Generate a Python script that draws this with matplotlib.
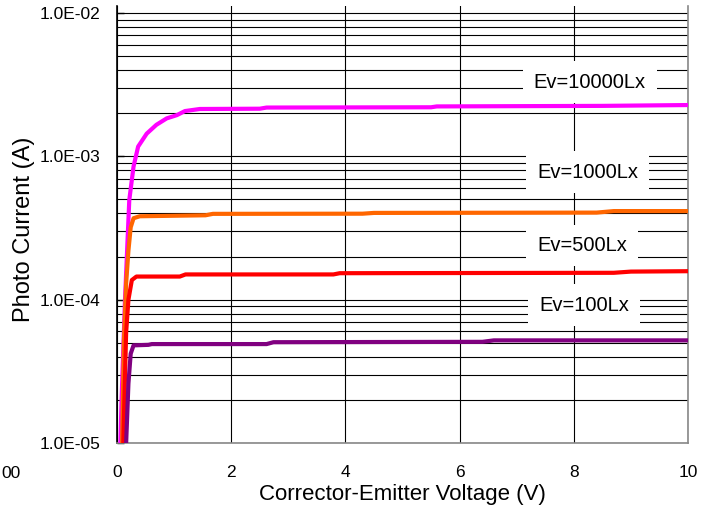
import numpy as np
import matplotlib
matplotlib.use("Agg")
import matplotlib.pyplot as plt
from matplotlib.ticker import FixedLocator, LogLocator, NullFormatter

plt.rcParams['font.family'] = ['Liberation Sans', 'DejaVu Sans']

# Photo current vs collector-emitter voltage
v_10000 = [0.06, 0.08, 0.14, 0.215, 0.29, 0.37, 0.52, 0.69, 0.87, 1.05, 1.19, 1.45, 2.5, 2.62, 5.5, 5.6, 8.5, 10.0]
i_10000 = [1.0e-5, 2.0e-5, 1.0e-4, 4.95e-4, 8.5e-4, 1.17e-3, 1.44e-3, 1.66e-3, 1.84e-3, 1.94e-3, 2.07e-3, 2.14e-3, 2.15e-3, 2.19e-3, 2.2e-3, 2.23e-3, 2.25e-3, 2.28e-3]

v_1000 = [0.09, 0.12, 0.16, 0.2, 0.24, 0.29, 0.4, 1.55, 1.68, 4.3, 4.5, 8.4, 8.7, 10.0]
i_1000 = [1.0e-5, 5.0e-5, 1.3e-4, 2.2e-4, 3.2e-4, 3.7e-4, 3.82e-4, 3.88e-4, 3.97e-4, 3.98e-4, 4.03e-4, 4.05e-4, 4.15e-4, 4.15e-4]

v_500 = [0.11, 0.16, 0.2, 0.26, 0.34, 1.1, 1.2, 3.79, 3.9, 8.7, 9.0, 10.0]
i_500 = [1.0e-5, 5.9e-5, 1.0e-4, 1.37e-4, 1.45e-4, 1.45e-4, 1.5e-4, 1.5e-4, 1.53e-4, 1.54e-4, 1.57e-4, 1.58e-4]

v_100 = [0.16, 0.2, 0.24, 0.29, 0.55, 0.61, 2.62, 2.74, 6.4, 6.6, 10.0]
i_100 = [1.0e-5, 2.6e-5, 4.2e-5, 4.8e-5, 4.84e-5, 4.9e-5, 4.9e-5, 5.05e-5, 5.08e-5, 5.2e-5, 5.2e-5]

series = [
    (v_10000, i_10000, '#FF00FF'),
    (v_1000, i_1000, '#FF6600'),
    (v_500, i_500, '#FF0000'),
    (v_100, i_100, '#800080'),
]

label_texts = ['Ev=10000Lx', 'Ev=1000Lx', 'Ev=500Lx', 'Ev=100Lx']
label_x = [7.3, 7.36, 7.36, 7.4]
label_y = [3.3e-3, 7.77e-4, 2.4e-4, 9.17e-5]

xticks = [0, 2, 4, 6, 8, 10]
yticks = [1e-5, 1e-4, 1e-3, 1e-2]
ytick_labels = ['1.0E-05', '1.0E-04', '1.0E-03', '1.0E-02']

fig = plt.figure(figsize=(7.15, 5.12), dpi=100)
ax = fig.add_axes([117 / 715, 1 - 443 / 512, 571 / 715, 437 / 512])

for v, i, c in series:
    ax.plot(v, i, color=c, lw=3, solid_joinstyle='round', zorder=3)

ax.set_yscale('log')
ax.set_xlim(0, 10)
ax.set_ylim(1e-5, 10 ** -1.951)

ax.xaxis.set_major_locator(FixedLocator(xticks))
ax.set_yticks(yticks)
ax.set_yticklabels(ytick_labels)
ax.yaxis.set_minor_locator(LogLocator(base=10, subs=np.arange(2, 10)))
ax.yaxis.set_minor_formatter(NullFormatter())

ax.grid(True, which='major', axis='both', color='black', lw=0.8, zorder=0)
ax.grid(True, which='minor', axis='y', color='black', lw=0.8, zorder=0)

ax.tick_params(axis='x', length=0, pad=16, labelsize=12.5)
ax.tick_params(axis='y', which='major', direction='in', length=5, width=1, pad=12, labelsize=12.5)
ax.tick_params(axis='y', which='minor', length=0)

ax.spines['top'].set_visible(False)
ax.spines['left'].set_color('black')
ax.spines['left'].set_linewidth(1.2)
for s in ['bottom', 'right']:
    ax.spines[s].set_color('#888888')
    ax.spines[s].set_linewidth(1.2)

for t, x, y in zip(label_texts, label_x, label_y):
    ax.text(x, y, t, fontsize=14.5, ha='left', va='center', zorder=2,
            bbox=dict(boxstyle='square,pad=0.55', fc='white', ec='none'))

ax.set_xlabel('Corrector-Emitter Voltage (V)', fontsize=16)
ax.xaxis.set_label_coords(0.5, -0.094)
ax.set_ylabel('Photo Current (A)', fontsize=17)
ax.yaxis.set_label_coords(-0.143, 0.49)

# clipped-off label from a neighbouring chart
fig.text(21 / 715, 1 - 473 / 512, '00', ha='right', va='center', fontsize=12.5)

fig.savefig('out.png', dpi=100)
